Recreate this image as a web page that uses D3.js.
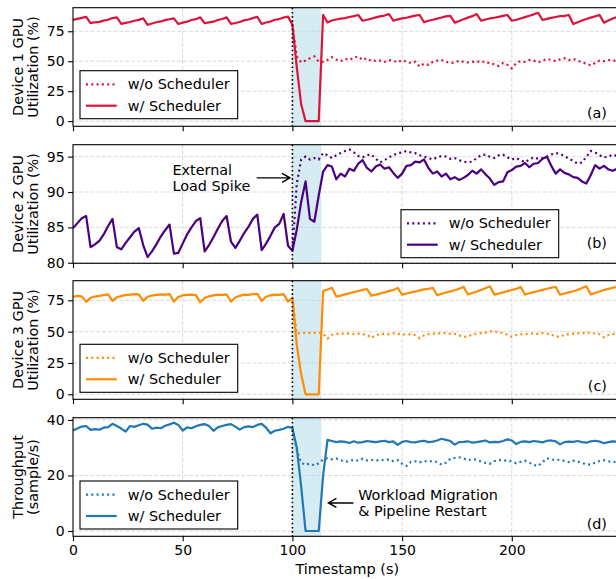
<!DOCTYPE html>
<html>
<head>
<meta charset="utf-8">
<title>GPU utilization with and without scheduler</title>
<script src="https://cdn.jsdelivr.net/npm/d3@7"></script>
<style>
    body { margin: 0; background: #fff; }
    #viz { display: block; font-family: 'DejaVu Sans', sans-serif; }
    .grid line { stroke: #b0b0b0; stroke-opacity: 0.6; stroke-width: 0.8; stroke-dasharray: 4 1.8; }
    .tick line { stroke: #000; stroke-width: 1.1; }
    .tick text { fill: #000; }
</style>
</head>
<body>
<svg id="viz"></svg>
<script>
// one sample every 2 s
const timestamps = d3.range(0, 250, 2)
// w/o scheduler only splits from w/ scheduler once the spike hits
const spikeTimestamps = d3.range(100, 250, 2)
const xTickValues = [0, 50, 100, 150, 200]
const spikeAt = 100
const recoveredAt = 113.2
const seriesNames = ['w/o Scheduler', 'w/ Scheduler']
const panelTags = ['(a)', '(b)', '(c)', '(d)']
const yLabels = [
    ['Device 1 GPU', 'Utilization (%)'],
    ['Device 2 GPU', 'Utilization (%)'],
    ['Device 3 GPU', 'Utilization (%)'],
    ['Throughput', '(sample/s)']
]
const yTickValues = [[0, 25, 50, 75], [80, 85, 90, 95], [0, 25, 50, 75], [0, 20, 40]]
const xLabel = 'Timestamp (s)'
const annotationTexts = [['External', 'Load Spike'], ['Workload Migration', '& Pipeline Restart']]

const dev1With = [
    84.4, 85.3, 86.2, 87.0, 81.8, 82.5, 82.8, 83.9, 84.6, 86.0,
    86.6, 81.2, 82.0, 82.7, 83.8, 84.5, 85.8, 80.4, 81.5, 82.5,
    83.2, 84.3, 85.0, 85.8, 81.0, 82.2, 83.0, 84.4, 85.1, 86.6,
    81.7, 82.4, 83.0, 84.4, 85.2, 86.6, 81.2, 81.9, 82.7, 84.1,
    84.8, 86.0, 87.1, 81.1, 82.3, 83.1, 84.6, 85.2, 86.5, 87.2,
    80.5, 45.0, 14.0, 0, 0, 0, 0, 88.6, 82.4, 84.0,
    84.8, 85.6, 86.0, 86.9, 87.6, 88.6, 83.8, 84.6, 85.5, 86.6,
    87.4, 88.1, 89.4, 83.8, 84.9, 85.7, 86.3, 87.2, 88.1, 88.6,
    82.5, 83.8, 84.6, 85.5, 86.5, 87.4, 87.8, 82.2, 83.6, 85.0,
    86.4, 87.6, 89.4, 83.8, 84.8, 85.7, 86.3, 87.0, 87.8, 88.6,
    83.8, 84.6, 85.7, 86.8, 87.9, 89.1, 90.5, 84.4, 85.3, 86.2,
    86.9, 87.6, 87.9, 88.6, 81.0, 82.6, 84.0, 85.2, 86.4, 87.4,
    88.6, 82.2, 83.9, 85.6, 87.0
]
const dev1Without = [
    80.5, 54.0, 49.0, 50.5, 52.5, 54.0, 49.7, 49.5, 51.0, 53.3,
    51.5, 50.0, 52.0, 51.0, 53.0, 54.0, 51.0, 52.5, 50.0, 50.5,
    50.5, 49.5, 51.0, 50.5, 49.0, 51.0, 49.5, 48.5, 49.5, 45.5,
    48.0, 47.0, 49.5, 50.5, 51.0, 49.5, 48.5, 49.0, 50.5, 49.5,
    49.0, 49.5, 50.0, 49.0, 50.0, 48.0, 47.5, 46.0, 48.5, 47.0,
    44.0, 48.5, 50.0, 49.5, 51.0, 50.5, 49.0, 50.5, 52.0, 51.0,
    50.0, 51.5, 52.5, 51.0, 52.0, 50.5, 49.0, 48.0, 46.5, 48.5,
    50.5, 50.0, 51.0, 50.5, 50.5
]
const dev2With = [
    84.9, 85.6, 86.3, 86.6, 82.2, 82.6, 83.1, 84.0, 85.2, 86.2,
    82.2, 81.9, 82.8, 83.6, 84.4, 84.9, 82.5, 80.8, 81.6, 82.6,
    83.7, 84.6, 85.4, 81.3, 81.4, 82.7, 84.0, 85.0, 85.9, 86.3,
    81.6, 82.5, 83.6, 84.8, 85.9, 86.6, 83.0, 82.1, 83.1, 84.2,
    85.1, 86.2, 86.8, 81.8, 82.7, 83.8, 85.0, 85.5, 86.9, 82.4,
    81.7, 84.7, 88.6, 91.5, 86.2, 85.8, 89.5, 92.9, 93.8, 93.6,
    91.8, 92.6, 92.2, 93.3, 93.0, 94.0, 94.5, 93.4, 92.9, 93.6,
    93.9, 93.3, 93.5, 92.7, 92.0, 92.6, 93.7, 93.8, 94.3, 94.2,
    94.6, 93.4, 92.6, 92.9, 92.2, 92.6, 91.8, 92.1, 91.7, 92.0,
    92.4, 93.0, 92.6, 93.2, 92.5, 91.9, 91.0, 91.4, 91.5, 92.8,
    93.1, 93.6, 93.7, 94.1, 93.5, 94.0, 94.1, 94.7, 95.0, 93.7,
    92.6, 93.2, 92.7, 92.5, 92.1, 92.0, 91.5, 91.2, 92.4, 93.8,
    93.3, 93.7, 93.2, 93.0, 93.3
]
const dev2Without = [
    81.7, 91.2, 94.6, 95.0, 94.6, 94.8, 94.6, 95.5, 95.2, 94.8,
    95.2, 95.5, 95.8, 96.0, 95.6, 95.1, 94.9, 95.2, 95.3, 94.7,
    94.2, 94.5, 94.9, 95.2, 95.5, 95.6, 95.8, 95.6, 95.5, 95.2,
    95.0, 94.8, 94.6, 94.9, 95.1, 95.0, 94.7, 94.8, 94.5, 94.3,
    94.2, 94.3, 94.8, 95.2, 95.3, 95.0, 94.8, 95.2, 95.3, 94.9,
    94.6, 94.8, 94.5, 94.2, 94.6, 94.9, 94.7, 94.8, 95.0, 95.3,
    95.5, 95.4, 95.1, 94.7, 94.4, 94.0, 94.2, 95.0, 95.8, 95.6,
    95.2, 94.9, 95.0, 95.3, 95.1
]
const dev3With = [
    77.8, 78.6, 78.2, 73.8, 77.0, 78.0, 78.6, 79.2, 79.8, 74.5,
    77.5, 78.5, 79.2, 79.5, 80.0, 79.7, 74.6, 77.8, 78.8, 79.4,
    79.8, 79.5, 79.9, 74.0, 77.6, 78.9, 79.3, 79.6, 79.2, 73.4,
    76.9, 78.2, 78.9, 79.6, 79.3, 79.8, 73.9, 77.3, 78.6, 79.5,
    79.3, 79.9, 80.1, 74.5, 77.9, 79.0, 79.6, 79.4, 80.0, 74.0,
    77.0, 39.3, 16.0, 0, 0, 0, 0, 82.4, 83.6, 85.0,
    78.0, 78.8, 79.7, 80.6, 81.5, 82.4, 83.3, 84.0, 78.6, 79.6,
    80.4, 81.3, 82.3, 83.2, 84.9, 79.6, 80.4, 81.3, 82.0, 82.9,
    83.7, 84.2, 84.9, 79.0, 80.2, 81.2, 82.1, 83.0, 84.3, 85.7,
    79.6, 80.8, 82.0, 83.3, 84.6, 86.2, 79.6, 80.4, 81.3, 82.3,
    83.2, 84.1, 85.7, 79.6, 80.6, 81.5, 82.4, 83.3, 84.2, 85.0,
    85.7, 79.4, 80.4, 81.3, 82.2, 83.2, 84.8, 86.2, 79.6, 80.8,
    82.0, 83.2, 84.1, 85.0, 85.8
]
const dev3Without = [
    77.0, 48.5, 49.0, 49.0, 49.0, 49.0, 49.0, 48.5, 44.5, 47.5,
    48.2, 48.3, 48.4, 48.5, 48.0, 48.4, 47.8, 47.5, 45.0, 47.2,
    48.0, 48.2, 48.0, 48.6, 48.3, 47.8, 47.7, 48.0, 47.2, 44.8,
    47.0, 48.0, 48.3, 48.6, 48.7, 48.8, 48.3, 48.2, 47.0, 45.8,
    46.3, 47.6, 48.4, 48.8, 49.2, 50.3, 50.0, 49.6, 48.8, 47.5,
    45.8, 47.3, 47.9, 48.1, 48.3, 48.5, 48.2, 48.8, 48.4, 47.5,
    46.4, 45.6, 47.6, 48.0, 48.4, 48.7, 48.5, 49.5, 48.9, 48.5,
    47.9, 45.5, 47.3, 48.0, 48.6
]
const throughputWith = [
    36.2, 36.9, 37.6, 37.8, 36.4, 36.7, 36.5, 37.2, 37.4, 38.6,
    37.8, 36.9, 35.8, 37.8, 37.5, 38.1, 38.6, 38.3, 36.8, 37.2,
    37.0, 37.9, 38.4, 39.0, 38.2, 36.2, 37.3, 37.0, 37.7, 38.2,
    38.5, 37.8, 36.1, 37.3, 37.8, 38.2, 38.5, 37.6, 36.5, 37.4,
    37.7, 37.4, 38.2, 38.6, 37.2, 35.2, 36.1, 36.4, 36.8, 37.5,
    37.1, 30.0, 16.0, 0, 0, 0, 0, 20.0, 32.8, 32.4,
    32.0, 32.3, 32.1, 31.7, 32.3, 31.8, 32.0, 32.4, 32.2, 32.0,
    32.3, 32.5, 32.0, 32.3, 31.0, 32.1, 32.4, 32.0, 31.9, 32.3,
    32.5, 32.0, 32.2, 32.6, 33.2, 32.8, 32.4, 31.1, 32.0, 32.1,
    32.3, 31.8, 32.0, 32.3, 32.6, 31.9, 32.1, 32.0, 32.4, 33.0,
    32.6, 31.3, 32.1, 32.3, 32.0, 32.4, 32.2, 31.9, 32.5, 32.6,
    32.3, 31.2, 32.0, 32.2, 32.1, 32.4, 32.0, 31.8, 32.3, 32.5,
    32.2, 31.6, 32.0, 32.3, 32.1
]
const throughputWithout = [
    37.1, 29.2, 24.6, 23.8, 24.3, 23.6, 24.4, 25.8, 26.2, 25.8,
    26.1, 25.5, 24.9, 25.2, 25.7, 25.3, 26.0, 25.4, 25.6, 25.3,
    25.7, 25.4, 25.8, 25.1, 25.5, 24.2, 23.4, 24.9, 25.1, 24.7,
    25.2, 24.9, 25.3, 24.8, 23.9, 24.6, 26.0, 26.3, 26.5, 26.1,
    25.5, 25.9, 25.6, 25.0, 24.5, 24.2, 25.1, 25.6, 25.3, 25.5,
    25.0, 24.4, 24.9, 25.3, 24.6, 23.8, 23.4, 24.8, 26.2, 25.8,
    25.5, 25.7, 25.2, 24.8, 25.3, 25.0, 24.5, 24.0, 23.9, 24.6,
    25.2, 25.5, 25.1, 24.8, 25.0
];

(function () {
    let vizEl = null
    let config = {
        width: 616,
        height: 579,
        left: 73,
        right: 621.5,
        xDomain: [0, 250],
        panelTops: [7.7, 144.7, 280.7, 417.7],
        panelHeight: 118.6,
        yDomains: [[-4.33, 94.67], [79.92, 96.69], [-3.99, 90.66], [-1.91, 40.8]],
        colors: ['#dc143c', '#4b0082', '#ff8c00', '#1f77b4'],
        spanColor: '#add8e6',
        legendPos: [[80, 70.7], [401, 209.7], [80, 344.3], [80, 481]],
        legendSize: [157.7, 48],
        legendRows: [13.6, 35],
        tagBaselines: [117.5, 247.5, 390.5, 529],
        tagRight: 607,
        yLabelX: [17.5, 33],
        fontSize: 14.4,
        tickFontSize: 14,
        tickSize: 4.9,
        lineWidth: 2.2,
        dotted: '2 3.3',
        xLabelBaseline: 574,
        annotations: [
            { panel: 1, textAt: [45.3, 92.0], from: [83.7, 92.0], to: [98.9, 92.0] },
            { panel: 3, textAt: [130, 10.1], from: [127.8, 10.1], to: [116.4, 10.1] }
        ]
    }

    function init() {
        vizEl = document.getElementById('viz')
        let svg = d3.select(vizEl)
            .attr('width', config.width)
            .attr('height', config.height)

        let panels = [
            { withSched: dev1With, withoutSched: dev1Without },
            { withSched: dev2With, withoutSched: dev2Without },
            { withSched: dev3With, withoutSched: dev3Without },
            { withSched: throughputWith, withoutSched: throughputWithout }
        ]

        let xScale = d3.scaleLinear()
            .domain(config.xDomain)
            .range([config.left, config.right])

        let yScales = panels.map((p, i) => drawPanel(svg, xScale, p, i))

        config.annotations.forEach((a, i) => drawAnnotation(svg, xScale, yScales[a.panel], a, annotationTexts[i]))

        svg.append('svg:text')
            .attr('x', (config.left + config.right) / 2)
            .attr('y', config.xLabelBaseline)
            .attr('text-anchor', 'middle')
            .attr('font-size', config.fontSize)
            .text(xLabel)
    }

    function drawPanel(svg, xScale, p, i) {
        let top = config.panelTops[i]
        let bottom = top + config.panelHeight
        let color = config.colors[i]
        let yScale = d3.scaleLinear().domain(config.yDomains[i]).range([bottom, top])
        let g = svg.append('svg:g').classed('panel', true)

        g.append('clipPath').attr('id', 'clip' + i)
            .append('rect')
            .attr('x', config.left).attr('y', top)
            .attr('width', config.right - config.left).attr('height', config.panelHeight)

        // grid
        let grid = g.append('svg:g').classed('grid', true)
        grid.selectAll('line.h').data(yTickValues[i]).join('line')
            .attr('class', 'h')
            .attr('x1', config.left).attr('x2', config.right)
            .attr('y1', d => yScale(d)).attr('y2', d => yScale(d))
        grid.selectAll('line.v').data(xTickValues.filter(d => d > 0)).join('line')
            .attr('class', 'v')
            .attr('x1', d => xScale(d)).attr('x2', d => xScale(d))
            .attr('y1', top).attr('y2', bottom)

        // load spike → recovery window
        g.append('svg:rect')
            .attr('x', xScale(spikeAt))
            .attr('y', top)
            .attr('width', xScale(recoveredAt) - xScale(spikeAt))
            .attr('height', config.panelHeight)
            .attr('fill', config.spanColor)
            .attr('fill-opacity', 0.5)

        let line = d3.line().x(d => xScale(d[0])).y(d => yScale(d[1]))
        let plot = g.append('svg:g').attr('clip-path', `url(#clip${i})`)
        plot.append('path')
            .datum(d3.zip(spikeTimestamps, p.withoutSched))
            .attr('d', line)
            .attr('fill', 'none')
            .attr('stroke', color)
            .attr('stroke-width', config.lineWidth)
            .attr('stroke-dasharray', config.dotted)
        plot.append('path')
            .datum(d3.zip(timestamps, p.withSched))
            .attr('d', line)
            .attr('fill', 'none')
            .attr('stroke', color)
            .attr('stroke-width', config.lineWidth)
            .attr('stroke-linejoin', 'round')

        g.append('svg:line')
            .attr('x1', xScale(spikeAt)).attr('x2', xScale(spikeAt))
            .attr('y1', top).attr('y2', bottom)
            .attr('stroke', '#000')
            .attr('stroke-width', 1.6)
            .attr('stroke-dasharray', '1.6 2.6')

        // axes
        let yAxis = g.append('svg:g')
            .attr('transform', `translate(${config.left},0)`)
            .call(d3.axisLeft(yScale).tickValues(yTickValues[i]).tickSize(config.tickSize).tickPadding(3.5))
        yAxis.attr('font-size', config.tickFontSize).attr('font-family', null)
        yAxis.select('.domain').remove()

        let isLast = i === config.panelTops.length - 1
        let xAxis = g.append('svg:g')
            .attr('transform', `translate(0,${bottom})`)
            .call(d3.axisBottom(xScale).tickValues(xTickValues).tickSize(config.tickSize).tickPadding(4)
                .tickFormat(isLast ? d3.format('d') : ''))
        xAxis.attr('font-size', config.tickFontSize).attr('font-family', null)
        xAxis.select('.domain').remove()

        g.append('svg:rect')
            .attr('x', config.left).attr('y', top)
            .attr('width', config.right - config.left).attr('height', config.panelHeight)
            .attr('fill', 'none')
            .attr('stroke', '#000')
            .attr('stroke-width', 1.1)

        // y label, two lines
        let yMid = (top + bottom) / 2
        yLabels[i].forEach((txt, k) => {
            g.append('svg:text')
                .attr('transform', `translate(${config.yLabelX[k]},${yMid}) rotate(-90)`)
                .attr('text-anchor', 'middle')
                .attr('dy', '0.35em')
                .attr('font-size', config.fontSize)
                .text(txt)
        })

        drawLegend(g, config.legendPos[i], color)

        g.append('svg:text')
            .attr('x', config.tagRight)
            .attr('y', config.tagBaselines[i])
            .attr('text-anchor', 'end')
            .attr('font-size', config.fontSize)
            .text(panelTags[i])

        return yScale
    }

    function drawLegend(g, pos, color) {
        let lg = g.append('svg:g').attr('transform', 'translate(' + pos + ')')
        lg.append('svg:rect')
            .attr('width', config.legendSize[0])
            .attr('height', config.legendSize[1])
            .attr('fill', '#fff')
            .attr('stroke', '#000')
            .attr('stroke-width', 1.1)
        seriesNames.forEach((name, k) => {
            let ry = config.legendRows[k]
            lg.append('svg:line')
                .attr('x1', 6).attr('x2', 36.7)
                .attr('y1', ry).attr('y2', ry)
                .attr('stroke', color)
                .attr('stroke-width', config.lineWidth)
                .attr('stroke-dasharray', k === 0 ? config.dotted : null)
            lg.append('svg:text')
                .attr('x', 47.7)
                .attr('y', ry)
                .attr('dy', '0.35em')
                .attr('font-size', config.fontSize)
                .text(name)
        })
    }

    function drawAnnotation(svg, xScale, yScale, a, lines) {
        let tx = xScale(a.textAt[0])
        let ty = yScale(a.textAt[1])
        lines.forEach((txt, k) => {
            svg.append('svg:text')
                .attr('x', tx)
                .attr('y', ty + (k === 0 ? -8.2 : 8.2))
                .attr('dy', '0.35em')
                .attr('font-size', config.fontSize)
                .text(txt)
        })
        let x1 = xScale(a.from[0]), y1 = yScale(a.from[1])
        let x2 = xScale(a.to[0]), y2 = yScale(a.to[1])
        let dir = x2 > x1 ? 1 : -1
        svg.append('svg:path')
            .attr('d', `M${x1},${y1}L${x2},${y2}M${x2 - dir * 8},${y2 - 4.5}L${x2},${y2}L${x2 - dir * 8},${y2 + 4.5}`)
            .attr('fill', 'none')
            .attr('stroke', '#000')
            .attr('stroke-width', 1.4)
    }

    init()
})()
</script>
</body>
</html>
